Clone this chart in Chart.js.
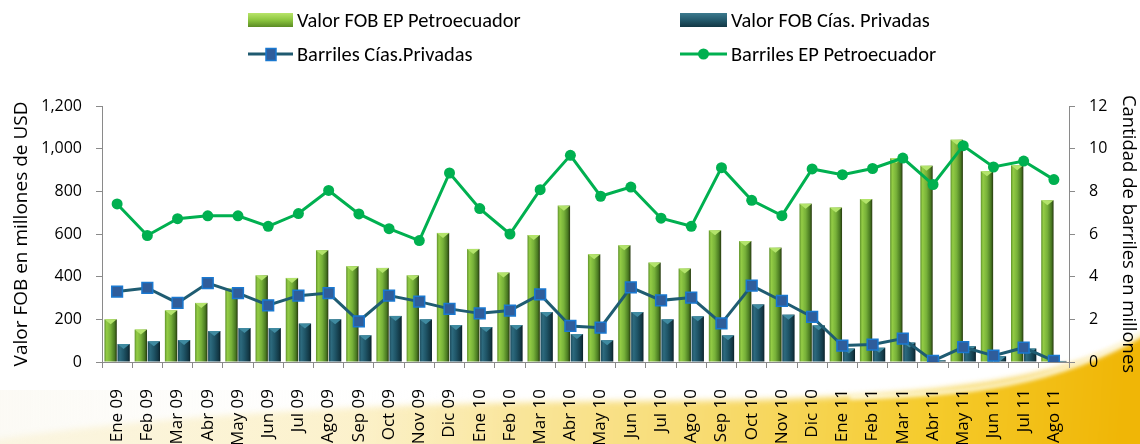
<!DOCTYPE html>
<html>
<head>
<meta charset="utf-8">
<script src="https://cdn.jsdelivr.net/npm/chart.js@4.4.1/dist/chart.umd.min.js"></script>
<style>
  html, body { margin: 0; padding: 0; background: #ffffff; }
  #wrap { position: relative; width: 1140px; height: 444px; }
</style>
</head>
<body>
<div id="wrap"><canvas id="c"></canvas></div>
<script>
const categories = ['Ene 09','Feb 09','Mar 09','Abr 09','May 09','Jun 09','Jul 09','Ago 09','Sep 09','Oct 09','Nov 09','Dic 09',
  'Ene 10','Feb 10','Mar 10','Abr 10','May 10','Jun 10','Jul 10','Ago 10','Sep 10','Oct 10','Nov 10','Dic 10',
  'Ene 11','Feb 11','Mar 11','Abr 11','May 11','Jun 11','Jul 11','Ago 11'];
const fobEP = [200,152,242,277,345,406,394,524,449,441,406,605,530,419,595,733,505,547,466,438,617,567,536,742,724,764,955,920,1042,894,922,758];
const fobPrivadas = [84,97,103,145,159,159,180,200,125,216,200,173,164,173,234,131,102,234,200,214,125,270,222,172,63,67,91,8,74,27,63,5];
const barrilesPrivadas = [3.3,3.47,2.77,3.7,3.23,2.66,3.11,3.23,1.91,3.11,2.83,2.49,2.28,2.41,3.17,1.69,1.61,3.5,2.89,3.02,1.81,3.58,2.86,2.11,0.77,0.82,1.1,0.05,0.7,0.3,0.67,0.05];
const barrilesEP = [7.41,5.93,6.72,6.85,6.85,6.36,6.96,8.04,6.94,6.25,5.69,8.86,7.19,6.0,8.08,9.69,7.77,8.2,6.74,6.36,9.11,7.58,6.86,9.05,8.78,9.07,9.56,8.32,10.14,9.14,9.42,8.55];
const leftTicks = [0,200,400,600,800,1000,1200];
const rightTicks = [0,2,4,6,8,10,12];

const seriesNames = ['Valor FOB EP Petroecuador','Valor FOB Cías. Privadas','Barriles Cías.Privadas','Barriles EP Petroecuador'];

const AXIS_FONT = "'Open Sans', 'Noto Sans', sans-serif";
const LEG_FAMILY = "'Carlito', 'Liberation Sans Narrow', 'Liberation Sans', sans-serif";

const barStyles = {
  0: { stops: [[0,'#5f922b'],[0.18,'#93cc45'],[0.5,'#77b139'],[0.82,'#4a7a22'],[1,'#26390f']], cap: '#b3e36b' },
  1: { stops: [[0,'#1d4c5d'],[0.2,'#2d6a7e'],[0.5,'#1f5567'],[0.85,'#123744'],[1,'#0a1f27']], cap: '#3f8aa0' }
};

const bg = {
  id: 'bgDecor',
  beforeDraw(chart) {
    const ctx = chart.ctx;
    ctx.save();
    ctx.filter = 'blur(3px)';
    ctx.beginPath();
    ctx.moveTo(-10, 440);
    ctx.quadraticCurveTo(250, 402, 650, 401);
    ctx.bezierCurveTo(900, 400, 1060, 388, 1150, 330);
    ctx.lineTo(1150, 460);
    ctx.lineTo(-10, 460);
    ctx.closePath();
    const lg = ctx.createLinearGradient(350, 395, 1120, 450);
    lg.addColorStop(0, '#fbeebe');
    lg.addColorStop(0.45, '#f8dc74');
    lg.addColorStop(0.75, '#f5cb2c');
    lg.addColorStop(1, '#f0b606');
    ctx.fillStyle = lg;
    ctx.fill();
    ctx.restore();
    ctx.save();
    const wf = ctx.createLinearGradient(0, 0, 520, 0);
    wf.addColorStop(0, 'rgba(250,248,240,0.7)');
    wf.addColorStop(1, 'rgba(255,255,255,0)');
    ctx.fillStyle = wf;
    ctx.fillRect(0, 390, 520, 54);
    ctx.filter = 'blur(2px)';
    ctx.strokeStyle = 'rgba(255,255,245,0.9)';
    ctx.lineWidth = 4;
    ctx.beginPath();
    ctx.moveTo(850, 397);
    ctx.bezierCurveTo(960, 395, 1060, 386, 1150, 328);
    ctx.stroke();
    ctx.restore();
  }
};

const fancyBars = {
  id: 'fancyBars',
  beforeDatasetDraw(chart, args) {
    const st = barStyles[args.index];
    if (!st) return;
    const ctx = chart.ctx;
    const meta = args.meta;
    ctx.save();
    meta.data.forEach(el => {
      const w = el.width, left = el.x - w / 2, top = el.y, h = el.base - el.y;
      if (h <= 0) return;
      const g = ctx.createLinearGradient(left, 0, left + w, 0);
      st.stops.forEach(s => g.addColorStop(s[0], s[1]));
      ctx.fillStyle = g;
      ctx.fillRect(left, top, w, h);
      const capH = Math.min(5, h);
      ctx.fillStyle = st.cap;
      ctx.beginPath();
      ctx.moveTo(left, top);
      ctx.lineTo(left + w, top);
      ctx.lineTo(left + w / 2, top + capH);
      ctx.closePath();
      ctx.fill();
    });
    ctx.restore();
    return false;
  }
};

const customLegend = {
  id: 'customLegend',
  afterDraw(chart) {
    const ctx = chart.ctx;
    ctx.save();
    let size = 20;
    ctx.font = size + 'px ' + LEG_FAMILY;
    const wMeas = ctx.measureText(seriesNames[0]).width;
    size = Math.max(12, Math.min(22, size * 224 / wMeas));
    ctx.font = size.toFixed(2) + 'px ' + LEG_FAMILY;
    ctx.textBaseline = 'alphabetic';
    ctx.textAlign = 'left';

    const sw = (x, w, st) => {
      const g = ctx.createLinearGradient(0, 13, 0, 27);
      g.addColorStop(0, st === 0 ? '#b8e46a' : '#3c7a8e');
      g.addColorStop(0.5, st === 0 ? '#8cc63f' : '#245a6c');
      g.addColorStop(1, st === 0 ? '#5b8c24' : '#123744');
      ctx.fillStyle = g;
      ctx.fillRect(x, 13, w, 14);
    };
    sw(248, 45, 0);
    sw(680, 47, 1);
    ctx.fillStyle = '#000';
    ctx.fillText(seriesNames[0], 297, 27);
    ctx.fillText(seriesNames[1], 731, 27);

    ctx.strokeStyle = '#1f5a70';
    ctx.lineWidth = 3;
    ctx.beginPath(); ctx.moveTo(248, 54); ctx.lineTo(293, 54); ctx.stroke();
    ctx.fillStyle = '#2f5d9b';
    ctx.strokeStyle = '#1a78d0';
    ctx.lineWidth = 1.5;
    ctx.fillRect(266, 48.5, 10, 12);
    ctx.strokeRect(266, 48.5, 10, 12);

    ctx.strokeStyle = '#00b050';
    ctx.lineWidth = 3;
    ctx.beginPath(); ctx.moveTo(680, 54); ctx.lineTo(727, 54); ctx.stroke();
    ctx.fillStyle = '#00b050';
    ctx.beginPath(); ctx.arc(703.5, 54, 5.5, 0, Math.PI * 2); ctx.fill();

    ctx.fillStyle = '#000';
    ctx.fillText(seriesNames[2], 297, 61);
    ctx.fillText(seriesNames[3], 731, 61);
    ctx.restore();
  }
};

const axisColor = '#8a8a8a';

new Chart(document.getElementById('c'), {
  data: {
    labels: categories,
    datasets: [
      { type: 'bar', label: seriesNames[0], data: fobEP, yAxisID: 'y', backgroundColor: '#7ab23a', order: 3,
        categoryPercentage: 0.86, barPercentage: 0.95 },
      { type: 'bar', label: seriesNames[1], data: fobPrivadas, yAxisID: 'y', backgroundColor: '#1f5567', order: 4,
        categoryPercentage: 0.86, barPercentage: 0.95 },
      { type: 'line', label: seriesNames[2], data: barrilesPrivadas, yAxisID: 'y1', order: 2,
        borderColor: '#1f5c72', borderWidth: 3, tension: 0,
        pointStyle: 'rect', pointRadius: 7.6, pointBackgroundColor: '#2f5d9b', pointBorderColor: '#1a78d0', pointBorderWidth: 1.5 },
      { type: 'line', label: seriesNames[3], data: barrilesEP, yAxisID: 'y1', order: 1,
        borderColor: '#00b050', borderWidth: 3, tension: 0,
        pointStyle: 'circle', pointRadius: 5.5, pointBackgroundColor: '#00b050', pointBorderColor: '#00b050', pointBorderWidth: 0 }
    ]
  },
  options: {
    responsive: true,
    maintainAspectRatio: false,
    animation: false,
    events: [],
    layout: { padding: { top: 106, left: 0, right: 0, bottom: 0 } },
    plugins: { legend: { display: false }, tooltip: { enabled: false } },
    scales: {
      x: {
        type: 'category',
        offset: true,
        grid: { offset: true, drawOnChartArea: false, drawTicks: true, tickLength: 6, color: axisColor },
        border: { color: axisColor, width: 1 },
        ticks: { autoSkip: false, minRotation: 90, maxRotation: 90, padding: 21, color: '#000',
          font: { family: AXIS_FONT, size: 17 } },
        afterFit: s => { s.height = 82; }
      },
      y: {
        position: 'left',
        min: 0, max: 1200,
        afterBuildTicks: s => { s.ticks = leftTicks.map(v => ({ value: v })); },
        grid: { drawOnChartArea: false, drawTicks: true, tickLength: 6, color: axisColor },
        border: { color: axisColor, width: 1 },
        ticks: { padding: 14, color: '#000', font: { family: AXIS_FONT, size: 16 },
          callback: v => v.toLocaleString('en-US') },
        title: { display: true, text: 'Valor FOB en millones de USD', color: '#000',
          font: { family: AXIS_FONT, size: 19 }, padding: { top: 10, bottom: 0 } },
        afterFit: s => { s.width = 102; }
      },
      y1: {
        position: 'right',
        min: 0, max: 12,
        afterBuildTicks: s => { s.ticks = rightTicks.map(v => ({ value: v })); },
        grid: { drawOnChartArea: false, drawTicks: true, tickLength: 6, color: axisColor },
        border: { color: axisColor, width: 1 },
        ticks: { padding: 14, color: '#000', font: { family: AXIS_FONT, size: 16 } },
        title: { display: true, text: 'Cantidad de barriles en millones', color: '#000',
          font: { family: AXIS_FONT, size: 18.5 }, padding: { top: 1, bottom: 0 } },
        afterFit: s => { s.width = 71; }
      }
    }
  },
  plugins: [bg, fancyBars, customLegend]
});
</script>
</body>
</html>
